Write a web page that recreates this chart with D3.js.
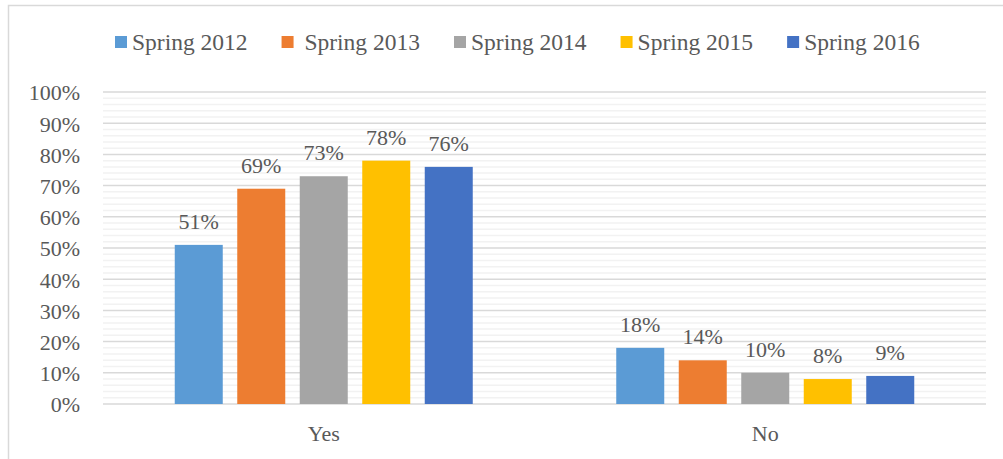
<!DOCTYPE html>
<html>
<head>
<meta charset="utf-8">
<script src="https://cdn.jsdelivr.net/npm/d3@7"></script>
<style>
  body { margin: 0; background: #fff; }
  svg text { font-family: "Liberation Serif", "Times New Roman", serif; fill: #595959; }
</style>
</head>
<body>
<div id="chart"></div>
<script>
const categories = ["Yes", "No"];
const seriesNames = ["Spring 2012", " Spring 2013", "Spring 2014", "Spring 2015", "Spring 2016"];
const spring2012 = [51, 18];
const spring2013 = [69, 14];
const spring2014 = [73, 10];
const spring2015 = [78, 8];
const spring2016 = [76, 9];
const yTicks = [0, 10, 20, 30, 40, 50, 60, 70, 80, 90, 100];

const seriesValues = [spring2012, spring2013, spring2014, spring2015, spring2016];
const colors = ["#5B9BD5", "#ED7D31", "#A5A5A5", "#FFC000", "#4472C4"];

const width = 1003;
const height = 459;
const marginLeft = 103;
const marginRight = 17;
const marginTop = 92;
const marginBottom = 55;
const serif = "'Liberation Serif', 'Times New Roman', serif";

const svg = d3.create("svg")
    .attr("width", width)
    .attr("height", height);
document.getElementById("chart").append(svg.node());

// chart frame
svg.append("rect")
    .attr("x", 8.5)
    .attr("y", 5.5)
    .attr("width", 1000)
    .attr("height", 470)
    .attr("fill", "none")
    .attr("stroke", "#D9D9D9")
    .attr("stroke-width", 1.5);

const x0 = d3.scaleBand()
    .domain(categories)
    .range([marginLeft, width - marginRight]);

const x1 = d3.scaleBand()
    .domain(d3.range(seriesNames.length))
    .range([0, x0.bandwidth()])
    .paddingInner(0.232)
    .paddingOuter(1.148);

const y = d3.scaleLinear()
    .domain([0, 100])
    .range([height - marginBottom, marginTop]);

// minor gridlines every 2%
svg.append("g")
    .selectAll("line")
    .data(d3.range(2, 100, 2).filter(v => v % 10 !== 0))
    .join("line")
    .attr("x1", marginLeft)
    .attr("x2", width - marginRight)
    .attr("y1", d => y(d))
    .attr("y2", d => y(d))
    .attr("stroke", "#F2F2F2")
    .attr("stroke-width", 1.5);

// major gridlines
svg.append("g")
    .selectAll("line")
    .data(yTicks)
    .join("line")
    .attr("x1", marginLeft)
    .attr("x2", width - marginRight)
    .attr("y1", d => y(d))
    .attr("y2", d => y(d))
    .attr("stroke", "#D9D9D9")
    .attr("stroke-width", 1.5);

// y axis labels
const yAxis = svg.append("g")
    .attr("transform", `translate(${marginLeft - 23},0)`)
    .call(d3.axisLeft(y).tickValues(yTicks).tickSize(0).tickPadding(0).tickFormat(d => d + "%"))
    .attr("font-family", serif)
    .attr("font-size", 22);
yAxis.select(".domain").remove();
yAxis.selectAll("text")
    .attr("dy", "0.36em")
    .attr("fill", "#595959");

// bars
const groups = svg.append("g")
    .selectAll("g")
    .data(categories)
    .join("g")
    .attr("transform", d => `translate(${x0(d)},0)`);

groups.selectAll("rect")
    .data((d, i) => seriesValues.map((s, k) => ({ k, v: s[i] })))
    .join("rect")
    .attr("x", d => x1(d.k))
    .attr("width", x1.bandwidth())
    .attr("y", d => y(d.v))
    .attr("height", d => y(0) - y(d.v))
    .attr("fill", d => colors[d.k]);

groups.selectAll("text")
    .data((d, i) => seriesValues.map((s, k) => ({ k, v: s[i] })))
    .join("text")
    .attr("x", d => x1(d.k) + x1.bandwidth() / 2)
    .attr("y", d => y(d.v) - 16)
    .attr("text-anchor", "middle")
    .attr("font-size", 22)
    .text(d => d.v + "%");

// category labels
const xAxis = svg.append("g")
    .attr("transform", `translate(0,${y(0)})`)
    .call(d3.axisBottom(x0).tickSize(0).tickPadding(0))
    .attr("font-family", serif)
    .attr("font-size", 22);
xAxis.select(".domain").remove();
xAxis.selectAll("text")
    .attr("dy", 0)
    .attr("y", 37)
    .attr("fill", "#595959");

// legend
const legend = svg.append("g");
let lx = 115;
seriesNames.forEach((name, i) => {
    legend.append("rect")
        .attr("x", lx)
        .attr("y", 36)
        .attr("width", 12)
        .attr("height", 12)
        .attr("fill", colors[i]);
    const t = legend.append("text")
        .attr("x", lx + 17)
        .attr("y", 50)
        .attr("font-size", 23.5)
        .style("white-space", "pre")
        .text(name);
    lx += 17 + t.node().getComputedTextLength() + 34;
});
</script>
</body>
</html>
